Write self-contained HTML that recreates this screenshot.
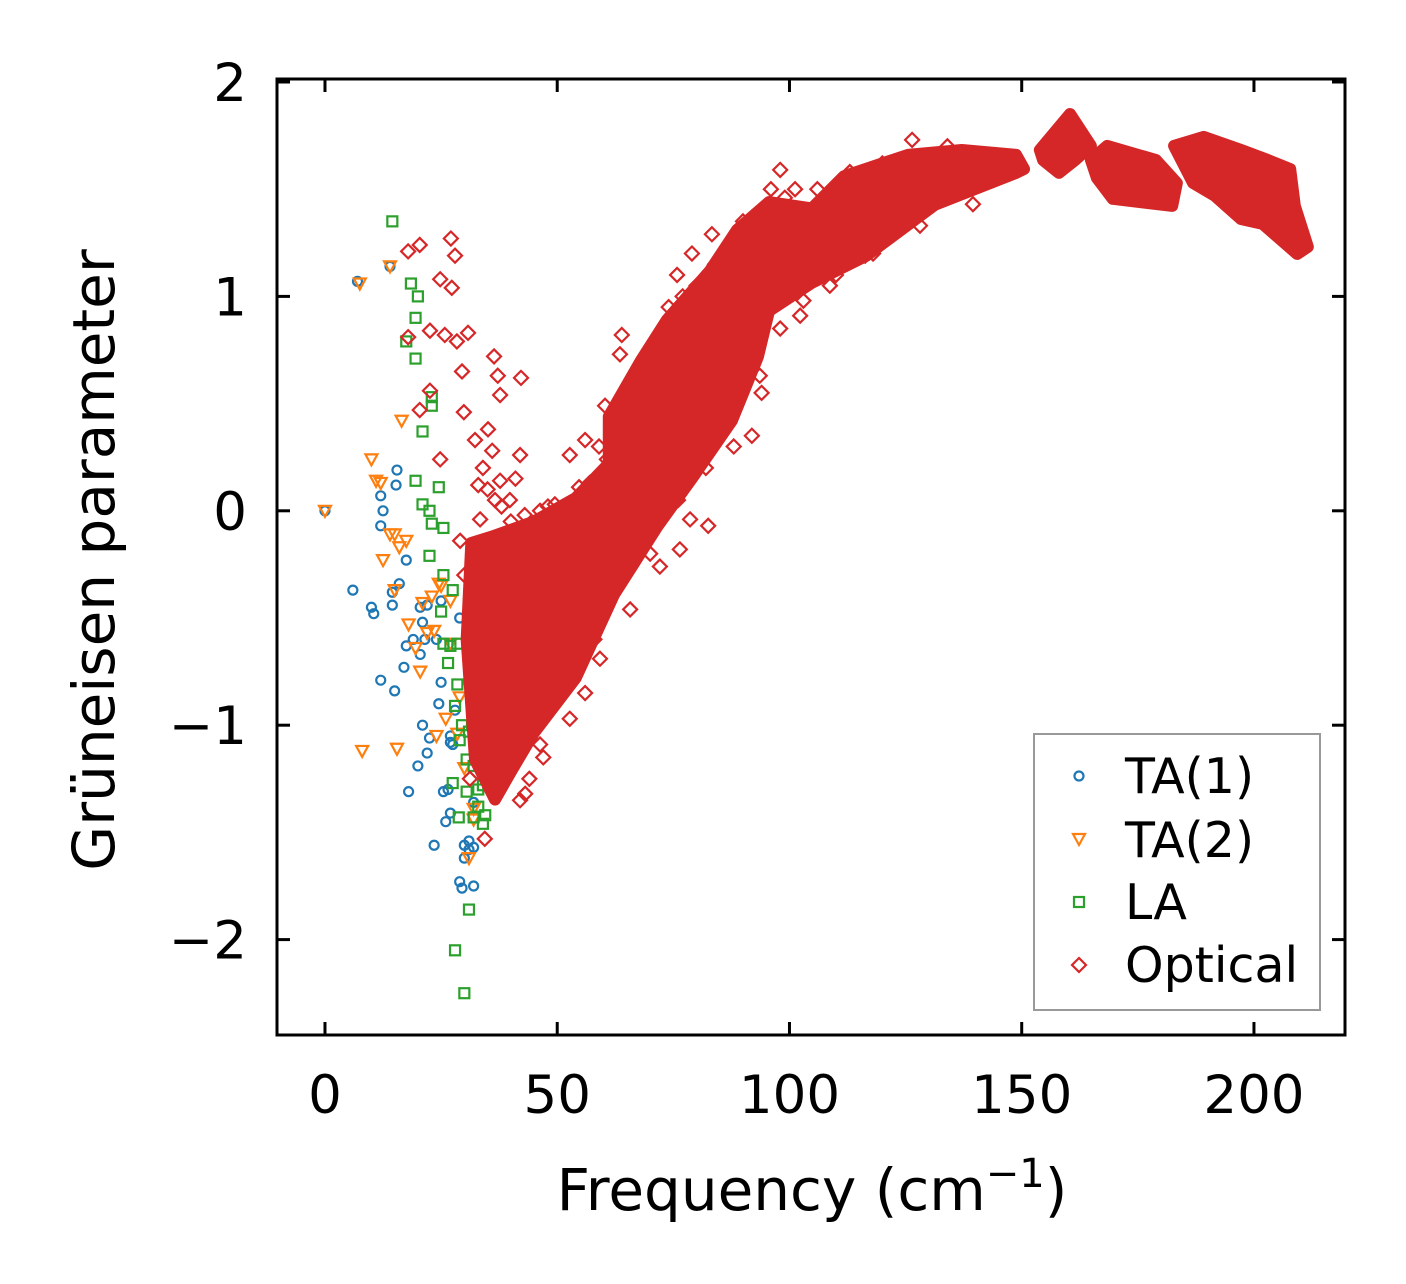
<!DOCTYPE html>
<html><head><meta charset="utf-8">
<style>
html,body{margin:0;padding:0;background:#fff;}
svg{display:block;font-family:"DejaVu Sans","Liberation Sans",sans-serif;}
</style></head>
<body>
<svg id="chart" width="1406" height="1284" viewBox="0 0 1406 1284" xmlns="http://www.w3.org/2000/svg">
<g id="marks"></g>
<rect x="277" y="79" width="1068" height="956" fill="none" stroke="#000" stroke-width="3"/>
<g id="axes"></g>
<text transform="translate(114,560) rotate(-90)" text-anchor="middle" font-size="58">Grüneisen parameter</text>
<text x="812" y="1210" text-anchor="middle" font-size="58">Frequency (cm<tspan dy="-23" font-size="40">−1</tspan><tspan dy="23">)</tspan></text>
<g>
<rect x="1034" y="734" width="286" height="276" fill="#fff" stroke="#999" stroke-width="2"/>
<circle cx="1079" cy="776" r="4.5" fill="none" stroke="#1f77b4" stroke-width="2.2"/>
<text x="1125" y="793" font-size="49">TA(1)</text>
<polygon points="1073,834 1085,834 1079,845" fill="none" stroke="#ff7f0e" stroke-width="2.2"/>
<text x="1125" y="857" font-size="49">TA(2)</text>
<rect x="1074" y="897" width="10" height="10" fill="none" stroke="#2ca02c" stroke-width="2.2"/>
<text x="1125" y="919" font-size="49">LA</text>
<polygon points="1079,958 1086,965 1079,972 1072,965" fill="none" stroke="#d62728" stroke-width="2.2"/>
<text x="1125" y="982" font-size="49">Optical</text>
</g>
</svg>
<script>
const xTicks=[0,50,100,150,200];
const yTicks=[-2,-1,0,1,2];
const xTickLabels=["0","50","100","150","200"];
const yTickLabels=["−2","−1","0","1","2"];
const ta1F=[0,7,14,6,10,10.5,12,12.5,12,15.5,15.3,14.5,14.5,16,17.5,17.5,17,12,15,18,20.5,21,22,21.5,19,20.5,20,21,22,22.5,25,24.5,23.5,25.5,26.5,26,27,27,27.5,27,29,29.5,30,31,30,31,32,32,32,28,29,25,24];
const ta1G=[0,1.07,1.14,-0.37,-0.45,-0.48,0.07,0.0,-0.07,0.19,0.12,-0.38,-0.44,-0.34,-0.23,-0.63,-0.73,-0.79,-0.84,-1.31,-0.45,-0.52,-0.44,-0.6,-0.6,-0.67,-1.19,-1.0,-1.13,-1.06,-0.8,-0.9,-1.56,-1.31,-1.3,-1.45,-1.05,-1.08,-1.09,-1.41,-1.73,-1.76,-1.56,-1.54,-1.62,-1.58,-1.57,-1.36,-1.75,-0.93,-0.5,-0.42,-0.6];
const ta2F=[0,7.5,14,10,11,12,16.5,14,15,16,17.5,12.5,15,18,19.5,20.5,21,22,23,23.5,24.5,25,27,8,15.5,24,26,28.5,29,31,30,32,33,31,32,33,27];
const ta2G=[0,1.06,1.14,0.24,0.14,0.13,0.42,-0.11,-0.11,-0.17,-0.14,-0.23,-0.37,-0.53,-0.64,-0.75,-0.43,-0.57,-0.4,-0.56,-0.34,-0.35,-0.42,-1.12,-1.11,-1.05,-0.97,-1.04,-0.87,-0.82,-1.2,-1.44,-1.05,-1.62,-1.39,-1.1,-0.62];
const laF=[14.5,18.5,20,19.5,17.5,19.5,23,23,21,19.5,21,22.5,23,24.5,25.5,22.5,25.5,27.5,25,27,28.5,25.5,28.5,28,29.5,29,31,30.5,32,30.5,33,34,33,34.5,32,34,31,28,30,28.8,27.5,26.5];
const laG=[1.35,1.06,1.0,0.9,0.79,0.71,0.53,0.49,0.37,0.14,0.03,0.0,-0.06,0.11,-0.08,-0.21,-0.3,-0.37,-0.47,-0.63,-0.62,-0.62,-0.81,-0.91,-1.0,-1.07,-1.03,-1.16,-1.19,-1.31,-1.3,-1.28,-1.38,-1.42,-1.43,-1.46,-1.86,-2.05,-2.25,-1.43,-1.27,-0.71];
// dense optical clusters (envelopes)
const optBandF=[31.5,36,45.0,54.0,61.1,61.1,68.0,73.6,82.9,88.7,95.6,104.8,111.7,125.5,137.1,148.8,150.5,148.8,131.3,116.5,104.8,95.6,93.2,87.6,79.4,71.5,62.2,54.0,45.0,40.3,36.6,32.3,30.5];
const optBandG=[-0.15,-0.12,-0.05,0.06,0.22,0.44,0.70,0.89,1.12,1.31,1.44,1.41,1.56,1.66,1.683,1.66,1.594,1.576,1.427,1.189,1.063,0.932,0.718,0.42,0.163,-0.075,-0.392,-0.779,-1.035,-1.207,-1.347,-1.161,-0.601];
const optB2F=[153.9,160.4,164.9,161.5,158.0,154.6];
const optB2G=[1.683,1.851,1.702,1.636,1.576,1.636];
const optB3F=[164.9,168.4,178.9,183.4,182.4,169.6,166.2];
const optB3G=[1.636,1.702,1.636,1.529,1.422,1.455,1.552];
const optB4F=[182.8,189.2,197.2,203.0,207.8,208.8,211.6,209.3,201.9,197.2,191.6,186.9];
const optB4G=[1.702,1.744,1.683,1.636,1.594,1.422,1.231,1.198,1.338,1.361,1.469,1.529];
const optF=[17.9,20.4,27.1,28.0,24.8,27.3,22.6,25.8,30.8,28.4,17.9,29.5,36.4,37.2,42.2,37.7,22.6,20.4,29.9,35.1,42,32.3,24.8,37.7,39.8,46.3,49.5,54.9,54.7,60.7,61.8,63.9,63.5,75.8,79,83.3,93.6,91.9,82.5,78.6,72.1,76.4,72.1,65.7,59.2,52.7,46.3,42,43.1,34.4,31.2,102.3,108.7,116.3,128.1,139.5,126.4,98,101.2,124.9,52.7,56,60.3,37.7,42,29.1,33.4,36.6,
 33,34,35,36,38,40,41,43,44,47,48,50,52,57,59,66,67,70,69,74,77,80,84,86,89,90,96,99,106,113,120,134,142,
 30,32,34,33,38,39,44,47,56,58,64,70,76,82,88,94,98,103,110,118];
const optG=[1.21,1.24,1.27,1.19,1.08,1.04,0.84,0.82,0.83,0.79,0.81,0.65,0.72,0.63,0.62,0.54,0.56,0.47,0.46,0.38,0.26,0.33,0.24,0.14,0.05,0.0,0.03,-0.02,0.11,0.24,0.4,0.82,0.73,1.1,1.2,1.29,0.63,0.35,-0.07,-0.04,-0.04,-0.18,-0.26,-0.46,-0.69,-0.97,-1.09,-1.35,-1.32,-1.53,-1.25,0.91,1.05,1.19,1.33,1.43,1.73,1.59,1.5,1.64,0.26,0.33,0.49,-0.41,-0.23,-0.14,-0.04,0.05,
 0.12,0.2,0.1,0.28,0.02,-0.05,0.15,-0.02,-0.1,-0.06,0.02,-0.05,0.02,0.13,0.3,0.52,0.6,0.75,0.62,0.95,1.0,1.05,1.15,1.2,1.25,1.35,1.5,1.46,1.5,1.58,1.62,1.7,1.66,
 -0.3,-0.5,-0.8,-1.0,-0.9,-1.05,-1.25,-1.15,-0.85,-0.6,-0.3,-0.2,0.05,0.2,0.3,0.55,0.85,0.98,1.1,1.2];

const X0=-10.33, X1=219.6, PX0=277, PX1=1345;
const Y0=-2.445, Y1=2.0, PY0=1035, PY1=82;
function sx(v){return PX0+(v-X0)/(X1-X0)*(PX1-PX0);}
function sy(v){return PY0+(v-Y0)/(Y1-Y0)*(PY1-PY0);}
const NS="http://www.w3.org/2000/svg";
const marks=document.getElementById('marks');
const axes=document.getElementById('axes');
function mk(tag,attrs,parent){const e=document.createElementNS(NS,tag);for(const k in attrs)e.setAttribute(k,attrs[k]);parent.appendChild(e);return e;}

xTicks.forEach((t,i)=>{
  const x=sx(t);
  const a=mk('line',{x1:x,x2:x,y1:1035,y2:1022,stroke:'#000','stroke-width':3},axes);
  
  
  const b=mk('line',{x1:x,x2:x,y1:79,y2:92,stroke:'#000','stroke-width':3},axes);
  
  
  const l=mk('text',{x:x,y:1113,'text-anchor':'middle','font-size':53},axes);
  l.textContent=xTickLabels[i];
  
  
});
yTicks.forEach((t,i)=>{
  const y=sy(t);
  const a=mk('line',{x1:277,x2:290,y1:y,y2:y,stroke:'#000','stroke-width':3},axes);
  
  
  const b=mk('line',{x1:1345,x2:1332,y1:y,y2:y,stroke:'#000','stroke-width':3},axes);
  
  
  const l=mk('text',{x:247,y:y+19,'text-anchor':'end','font-size':53},axes);
  l.textContent=yTickLabels[i];
  
  
});

const gTA1=mk('g',{},marks);


ta1F.forEach((f,i)=>{
  const c=mk('circle',{cx:sx(f),cy:sy(ta1G[i]),r:4.5,fill:'none',stroke:'#1f77b4','stroke-width':2.2},gTA1);
  
  
});
const gTA2=mk('g',{},marks);


ta2F.forEach((f,i)=>{
  const x=sx(f),y=sy(ta2G[i]);
  const p=mk('polygon',{points:`${x-6},${y-5} ${x+6},${y-5} ${x},${y+6}`,fill:'none',stroke:'#ff7f0e','stroke-width':2.2},gTA2);
  
  
});
const gLA=mk('g',{},marks);


laF.forEach((f,i)=>{
  const r=mk('rect',{x:sx(f)-5,y:sy(laG[i])-5,width:10,height:10,fill:'none',stroke:'#2ca02c','stroke-width':2.2},gLA);
  
  
});
const gOpt=mk('g',{},marks);


[[optBandF,optBandG],[optB2F,optB2G],[optB3F,optB3G],[optB4F,optB4G]].forEach(([F,G])=>{
  const pts=F.map((f,i)=>sx(f)+','+sy(G[i])).join(' ');
  const p=mk('polygon',{points:pts,fill:'#d62728',stroke:'#d62728','stroke-width':12,'stroke-linejoin':'round'},gOpt);
  
  
});
optF.forEach((f,i)=>{
  const x=sx(f),y=sy(optG[i]);
  const p=mk('polygon',{points:`${x},${y-7} ${x+7},${y} ${x},${y+7} ${x-7},${y}`,fill:'none',stroke:'#d62728','stroke-width':2.2},gOpt);
  
  
});
</script>
</body></html>
